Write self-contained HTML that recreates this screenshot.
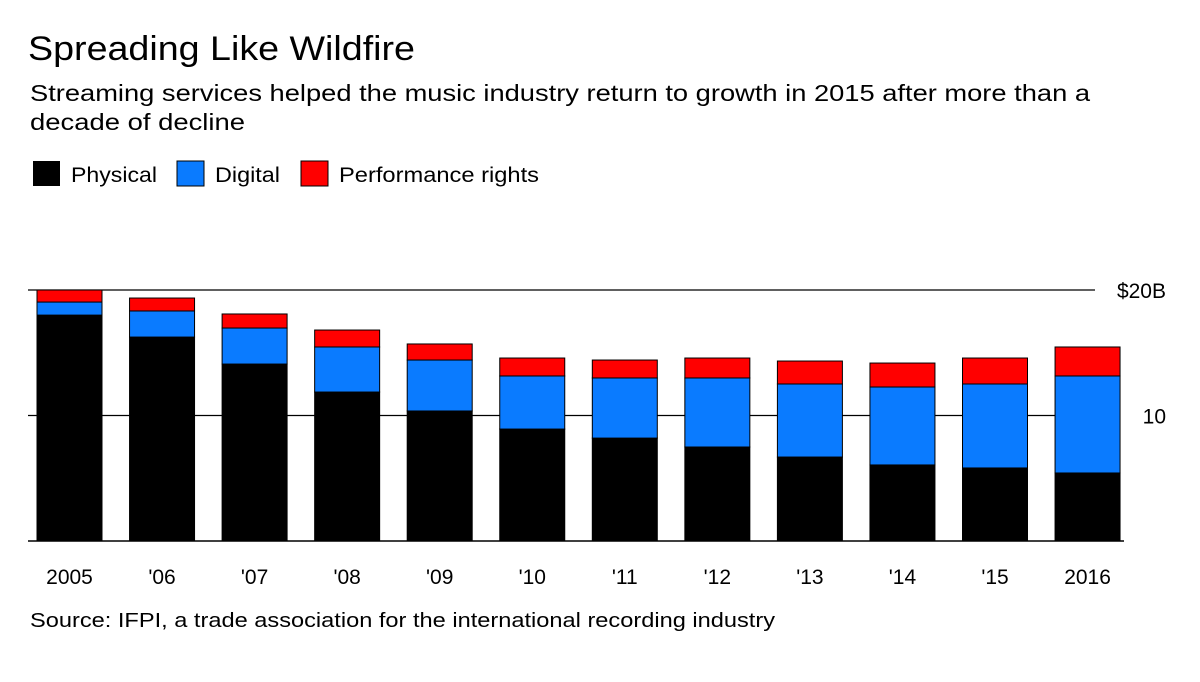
<!DOCTYPE html>
<html><head><meta charset="utf-8"><style>
body{margin:0;background:#fff;font-family:"Liberation Sans",sans-serif;}
svg text{font-family:"Liberation Sans",sans-serif;}
</style></head><body>
<svg width="1200" height="677">
<text x="28" y="60" font-size="34" textLength="387" lengthAdjust="spacingAndGlyphs" fill="#000">Spreading Like Wildfire</text>
<text x="30" y="101" font-size="23.5" textLength="1060" lengthAdjust="spacingAndGlyphs" fill="#000">Streaming services helped the music industry return to growth in 2015 after more than a</text>
<text x="30" y="130" font-size="23.5" textLength="215" lengthAdjust="spacingAndGlyphs" fill="#000">decade of decline</text>
<g>
<rect x="33" y="161" width="27" height="25" fill="#000"/>
<text x="71" y="182" font-size="21" textLength="86" lengthAdjust="spacingAndGlyphs">Physical</text>
<rect x="177" y="161" width="27" height="25" fill="#0a7bff" stroke="#000" stroke-width="1"/>
<text x="215" y="182" font-size="21" textLength="65" lengthAdjust="spacingAndGlyphs">Digital</text>
<rect x="301" y="161" width="27" height="25" fill="#ff0000" stroke="#000" stroke-width="1"/>
<text x="339" y="182" font-size="21" textLength="200" lengthAdjust="spacingAndGlyphs">Performance rights</text>
</g>
<g id="plot"></g>
<text x="30" y="627" font-size="20.5" textLength="745" lengthAdjust="spacingAndGlyphs">Source: IFPI, a trade association for the international recording industry</text>
</svg>
<script>
const categories=["2005","'06","'07","'08","'09","'10","'11","'12","'13","'14","'15","2016"];
const physical=[18.0,16.25,14.1,11.87,10.36,8.92,8.2,7.49,6.69,6.06,5.82,5.42];
const digital=[1.04,2.08,2.87,3.59,4.06,4.23,4.79,5.5,5.82,6.21,6.69,7.73];
const performance=[0.96,1.03,1.12,1.35,1.28,1.43,1.43,1.59,1.83,1.91,2.07,2.31];
const yTicks=[10,20];
const yTickLabels=["10","$20B"];
const NS="http://www.w3.org/2000/svg";
const g=document.getElementById('plot');
const y=v=>541-v*12.55;
const x=i=>37+i*92.55;
const bw=65;
function mk(t,a){const e=document.createElementNS(NS,t);for(const k in a)e.setAttribute(k,a[k]);g.appendChild(e);return e;}
yTicks.forEach((t,i)=>{
  const l=mk('line',{x1:28,x2:1095,y1:y(t),y2:y(t),stroke:'#000','stroke-width':1.3});
  
  
  const tx=mk('text',{x:1166,y:y(t)+8,'font-size':21,'text-anchor':'end'});
  tx.textContent=yTickLabels[i];
  
  
});
categories.forEach((c,i)=>{
  const p=physical[i],d=digital[i],r=performance[i];
  const segs=[[0,p,'#000','physical'],[p,p+d,'#0a7bff','digital'],[p+d,p+d+r,'#ff0000','performance']];
  segs.forEach(s=>{
    const e=mk('rect',{x:x(i),y:y(s[1]),width:bw,height:y(s[0])-y(s[1]),fill:s[2],stroke:'#000','stroke-width':1});
    
    
  });
  const t=mk('text',{x:x(i)+bw/2,y:584,'font-size':21,'text-anchor':'middle'});
  t.textContent=c;
  
  
});
const ax=mk('line',{x1:28,x2:1124,y1:541,y2:541,stroke:'#000','stroke-width':1.5});


</script>
</body></html>
